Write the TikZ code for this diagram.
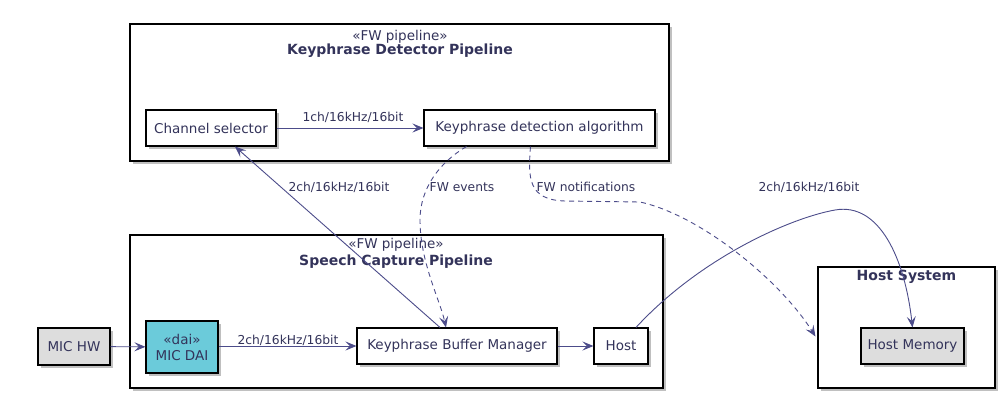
\documentclass[tikz,border=0pt]{standalone}
\usepackage{fontspec}
\setmainfont{DejaVu Sans}
\usetikzlibrary{shadows,arrows.meta,calc}
\definecolor{txt}{HTML}{33335A}
\definecolor{lnc}{HTML}{4C4C8A}
\definecolor{grayfill}{HTML}{DDDDDD}
\definecolor{daifill}{HTML}{6BCBDA}
\tikzset{
  shad/.style={drop shadow={shadow xshift=3pt,shadow yshift=-3pt,fill=black!45,opacity=.55}},
  comp/.style={draw=black,line width=1.1pt,fill=white,text=txt,font=\fontsize{13.5}{16}\selectfont,inner sep=0pt,shad},
  frame/.style={draw=black,line width=1.1pt,fill=white,inner sep=0pt,shad},
  ttl/.style={text=txt,font=\fontsize{13.5}{16}\selectfont,inner sep=0pt},
  ttlb/.style={text=txt,font=\fontsize{14}{16}\selectfont\bfseries,inner sep=0pt},
  lbl/.style={text=txt,font=\fontsize{12.3}{14}\selectfont,inner sep=1pt},
  conn/.style={draw=lnc,line width=0.9pt,-{Stealth[length=11pt,width=9pt,inset=4.5pt]}},
  dconn/.style={conn,dash pattern=on 5pt off 4pt},
}
\begin{document}
\begin{tikzpicture}[x=1pt,y=-1pt]
\useasboundingbox (0,0) rectangle (1005,400);
% frames
\node[frame,minimum width=539pt,minimum height=137pt] (kdp) at (399.5,92.5) {};
\node[ttl] (kdpst) at (400,37) {«FW pipeline»};
\node[ttlb] (kdpt) at (400,51) {Keyphrase Detector Pipeline};
\node[frame,minimum width=533pt,minimum height=153pt] (scp) at (396.5,311.5) {};
\node[ttl] (scpst) at (396,245) {«FW pipeline»};
\node[ttlb] (scpt) at (396,262) {Speech Capture Pipeline};
\node[frame,minimum width=177pt,minimum height=121pt] (hs) at (906.5,327.5) {};
\node[ttlb] (hst) at (906.5,277) {Host System};
% components
\node[comp,minimum width=130pt,minimum height=36pt] (cs) at (211,128) {Channel selector};
\node[comp,minimum width=231pt,minimum height=36pt] (kda) at (539.5,128) {Keyphrase detection algorithm};
\node[comp,fill=grayfill,minimum width=72pt,minimum height=37pt] (michw) at (74,346.5) {MIC HW};
\node[comp,fill=daifill,minimum width=72pt,minimum height=52pt,align=center] (dai) at (182,347) {«dai»\\MIC DAI};
\node[comp,minimum width=200pt,minimum height=36pt] (kbm) at (457,346) {Keyphrase Buffer Manager};
\node[comp,minimum width=54pt,minimum height=36pt] (host) at (621,346) {Host};
\node[comp,fill=grayfill,minimum width=103pt,minimum height=36pt] (hm) at (912.5,346) {Host Memory};
% connectors
\draw[conn] (cs) -- (kda);
\node[lbl] (l1) at (353,117) {1ch/16kHz/16bit};
\draw[conn] (michw) -- (dai);
\draw[conn] (dai.east |- kbm.west) -- (kbm.west);
\node[lbl] (l2) at (288,340) {2ch/16kHz/16bit};
\draw[conn] (kbm) -- (host);
\draw[conn] ($(kbm.north)+(-17,0)$) -- ($(cs.south)+(24,0)$);
\node[lbl] (l3) at (339,187) {2ch/16kHz/16bit};
\draw[dconn] ($(kda.south)+(-73,0)$) .. controls (440,162) and (420,188) .. (420,220) .. controls (420,262) and (440,300) .. ($(kbm.north)+(-11,0)$);
\node[lbl] (l4) at (462,187) {FW events};
\draw[dconn] ($(kda.south)+(-9,0)$) .. controls (528,178) and (528,200) .. (565,201) -- (640,202) .. controls (700,215) and (780,280) .. ($(hs.west)+(-2,9)$);
\node[lbl] (l5) at (586,187) {FW notifications};
\draw[conn] ($(host.north)+(15,0)$) .. controls (700,258) and (790,218) .. (835,210) .. controls (880,202) and (905,260) .. ($(hm.north)+(0,0)$);
\node[lbl] (l6) at (809,187) {2ch/16kHz/16bit};
\end{tikzpicture}
\end{document}
